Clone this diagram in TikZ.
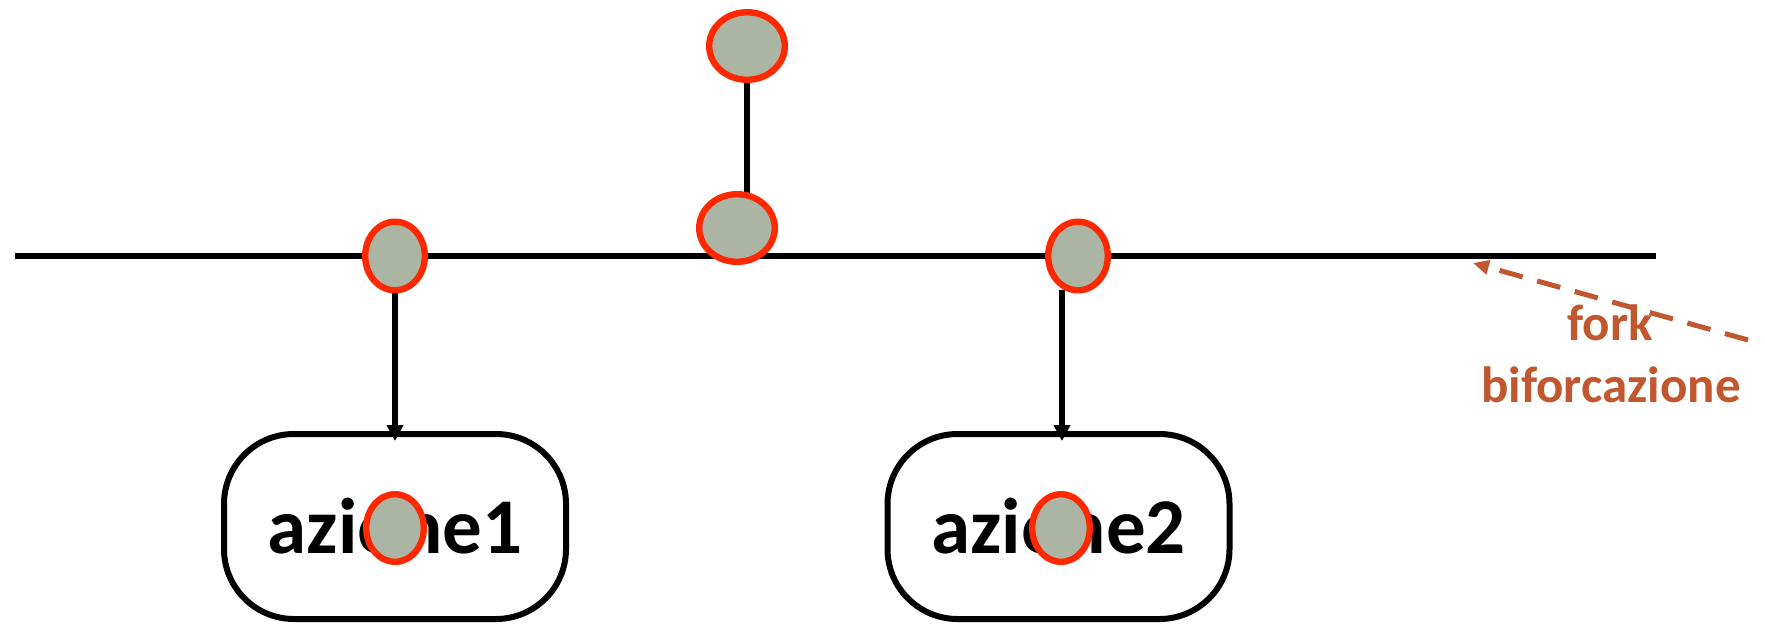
\documentclass[tikz,border=0pt]{standalone}
\usepackage{fontspec}
\setmainfont{Carlito}
\usetikzlibrary{arrows.meta,shapes.geometric}
\definecolor{nodefill}{RGB}{172,181,163}
\definecolor{ringred}{RGB}{255,40,0}
\definecolor{forkc}{RGB}{192,87,47}
\pgfdeclarelayer{bg}
\pgfsetlayers{bg,main}
\begin{document}
\begin{tikzpicture}[x=0.5pt,y=-0.5pt,
  dot/.style={ellipse, draw=ringred, fill=nodefill, line width=3.2pt, inner sep=0pt, outer sep=0pt},
  bigdot/.style={dot, minimum width=37.8pt, minimum height=33.8pt},
  smalldot/.style={dot, minimum width=29.8pt, minimum height=34.3pt},
  innerdot/.style={dot, minimum width=28.8pt, minimum height=33.8pt},
  actionbox/.style={draw=black, line width=3pt, rounded corners=35pt, minimum width=171pt, minimum height=92.5pt, inner sep=0pt, outer sep=0pt, font=\fontsize{39.5}{47}\selectfont\bfseries},
  bar/.style={line width=3.2pt},
  conn/.style={line width=3pt},
  arrowc/.style={line width=3pt, -{Triangle[length=8pt,width=8pt]}, shorten >=-3.5pt},
  forkarrow/.style={draw=forkc, line width=2.5pt, dash pattern=on 12pt off 7.5pt, -{Triangle[length=8pt,width=7pt]}},
  forktext/.style={text=forkc, font=\fontsize{25.5}{30}\selectfont\bfseries, anchor=base, inner sep=0pt}
]
\useasboundingbox (0,0) rectangle (1765,627);

% fork points on the bar and top node
\node[bigdot] (top) at (747,46) {};
\node[bigdot] (mid) at (737,228) {};
\node[smalldot] (L) at (395,256) {};
\node[smalldot] (R) at (1078,256) {};

\begin{pgfonlayer}{bg}
  \coordinate (barL) at (15,256);
  \coordinate (barR) at (1656,256);
  \draw[bar] (barL) -- (barR);
  \node[actionbox] (box1) at (395,526.5) {azione1};
  \node[actionbox] (box2) at (1058.5,526.5) {azione2};
  \draw[conn] (top.south) -- (top.south |- mid.north);
  \draw[arrowc] (L.south) -- (L.south |- box1.north);
  \draw[arrowc] ([xshift=-8pt]R.south) -- ([xshift=-8pt]R.south |- box2.north);
\end{pgfonlayer}

% dots drawn over the action labels
\node[innerdot] (in1) at (395,528) {};
\node[innerdot] (in2) at (1061,528) {};

% fork annotation
\coordinate (forkstart) at (1748,340);
\coordinate (forktip) at (1473,263);
\draw[forkarrow] (forkstart) -- (forktip);
\node[forktext] (fork1) at (1610,340) {fork};
\node[forktext] (fork2) at (1611,402) {biforcazione};
\end{tikzpicture}
\end{document}
